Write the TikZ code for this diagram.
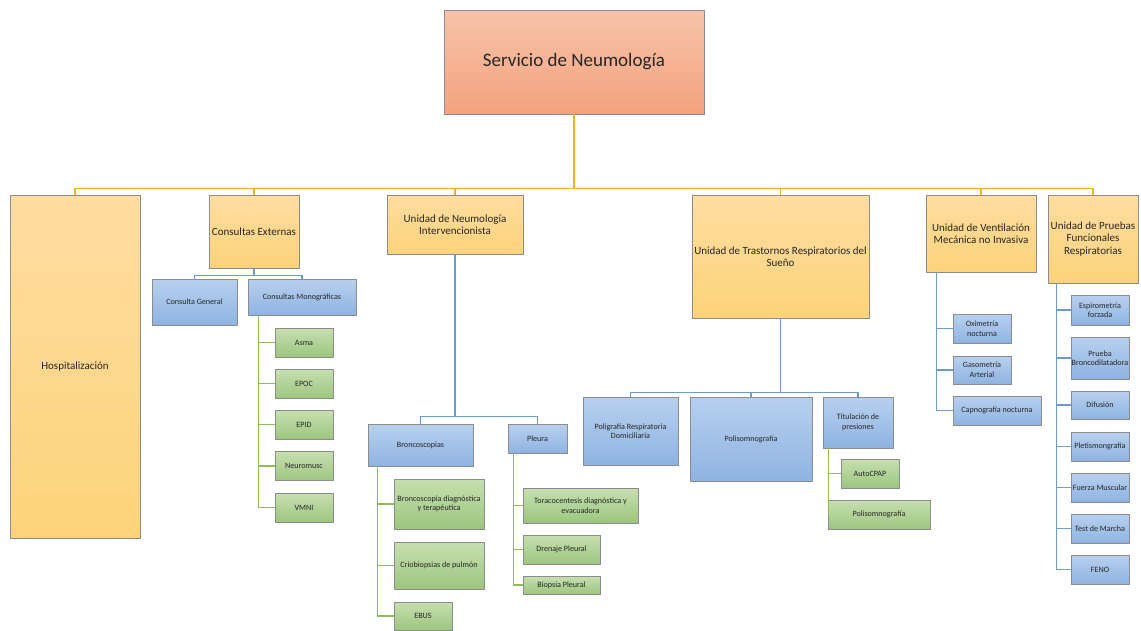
\documentclass[tikz,border=0pt]{standalone}
\usepackage{fontspec}
\setmainfont{Carlito}
\definecolor{rootTop}{HTML}{F7C3A9}
\definecolor{rootBot}{HTML}{F4A27E}
\definecolor{unitTop}{HTML}{FEDDA0}
\definecolor{unitBot}{HTML}{FDD27A}
\definecolor{subTop}{HTML}{B8D0EE}
\definecolor{subBot}{HTML}{8EB3E2}
\definecolor{leafTop}{HTML}{C6DFB0}
\definecolor{leafBot}{HTML}{9CC67F}
\definecolor{lineOrange}{HTML}{F0B323}
\definecolor{lineBlue}{HTML}{6C9BD2}
\definecolor{lineGreen}{HTML}{8CBD5B}
\definecolor{boxGray}{HTML}{8C8C8C}
\definecolor{textGray}{HTML}{262626}
\begin{document}
\begin{tikzpicture}[x=1pt,y=-1pt]
  \tikzstyle{box}=[draw=boxGray, line width=0.8pt, inner sep=0.5pt, align=center, text=textGray]
  \tikzstyle{rootbox}=[box, top color=rootTop, bottom color=rootBot, font=\fontsize{19}{23}\selectfont]
  \tikzstyle{unitbox}=[box, top color=unitTop, bottom color=unitBot, font=\fontsize{11}{12.5}\selectfont]
  \tikzstyle{subbox}=[box, top color=subTop, bottom color=subBot, font=\fontsize{8.1}{9.5}\selectfont]
  \tikzstyle{leafbox}=[box, top color=leafTop, bottom color=leafBot, font=\fontsize{8.1}{9.5}\selectfont]
  \tikzstyle{orangeline}=[draw=lineOrange, line width=1.5pt]
  \tikzstyle{blueline}=[draw=lineBlue, line width=1.5pt]
  \tikzstyle{greenline}=[draw=lineGreen, line width=1.5pt]
  \useasboundingbox (0,0) rectangle (1141,630);

  % top
  \node[rootbox, minimum width=260pt, minimum height=104pt] (root) at (574,62) {Servicio de Neumología};

  % units
  \node[unitbox, minimum width=130pt, minimum height=343pt] (hosp) at (75,366.5) {Hospitalización};
  \node[unitbox, minimum width=90pt, minimum height=73pt] (cext) at (254,231.5) {Consultas Externas};
  \node[unitbox, minimum width=136pt, minimum height=59pt] (interv) at (455,224.5) {Unidad de Neumología\\Intervencionista};
  \node[unitbox, minimum width=177pt, minimum height=123pt] (sueno) at (780.5,256.5) {Unidad de Trastornos Respiratorios del\\Sueño};
  \node[unitbox, minimum width=110pt, minimum height=77pt] (vmni) at (981,233.5) {Unidad de Ventilación\\Mecánica no Invasiva};
  \node[unitbox, minimum width=90pt, minimum height=88pt] (pfr) at (1093,239) {Unidad de Pruebas\\Funcionales\\Respiratorias};

  \draw[orangeline] (root.south) -- ++(0,74) coordinate (bus);
  \draw[orangeline] (hosp.north |- bus) -- (pfr.north |- bus);
  \foreach \u in {hosp,cext,interv,sueno,vmni,pfr}
    \draw[orangeline] (\u.north |- bus) -- (\u.north);

  % consultas externas
  \node[subbox, minimum width=85pt, minimum height=46pt] (cgen) at (194.5,302) {Consulta General};
  \node[subbox, minimum width=108pt, minimum height=36pt] (cmono) at (302,297) {Consultas Monográficas};
  \draw[blueline] (cext.south) -- ++(0,7) -| (cgen.north);
  \draw[blueline] (cext.south) -- ++(0,7) -| (cmono.north);

  \node[leafbox, minimum width=58pt, minimum height=29pt] (asma) at (304,342.5) {Asma};
  \node[leafbox, minimum width=58pt, minimum height=29pt] (epoc) at (304,383.5) {EPOC};
  \node[leafbox, minimum width=58pt, minimum height=29pt] (epid) at (304,424.5) {EPID};
  \node[leafbox, minimum width=58pt, minimum height=29pt] (neuro) at (304,466) {Neuromusc};
  \node[leafbox, minimum width=58pt, minimum height=29pt] (vmnileaf) at (304,507.5) {VMNI};
  \foreach \n in {asma,epoc,epid,neuro,vmnileaf}
    \draw[greenline] ([xshift=11pt]cmono.south west) |- (\n.west);

  % intervencionista
  \node[subbox, minimum width=105pt, minimum height=42pt] (bronco) at (420.5,445) {Broncoscopias};
  \node[subbox, minimum width=59pt, minimum height=29pt] (pleura) at (537.5,438.5) {Pleura};
  \draw[blueline] (interv.south) -- ++(0,162) -| (bronco.north);
  \draw[blueline] (interv.south) -- ++(0,162) -| (pleura.north);

  \node[leafbox, minimum width=90pt, minimum height=50pt] (bdiag) at (439,504) {Broncoscopia diagnóstica\\y terapéutica};
  \node[leafbox, minimum width=90pt, minimum height=47pt] (crio) at (439,565.5) {Criobiopsias de pulmón};
  \node[leafbox, minimum width=58pt, minimum height=28pt] (ebus) at (423,616) {EBUS};
  \foreach \n in {bdiag,crio,ebus}
    \draw[greenline] ([xshift=10pt]bronco.south west) |- (\n.west);

  \node[leafbox, minimum width=115pt, minimum height=35pt] (tora) at (580.5,505.5) {Toracocentesis diagnóstica y\\evacuadora};
  \node[leafbox, minimum width=77pt, minimum height=29pt] (dren) at (561.5,549.5) {Drenaje Pleural};
  \node[leafbox, minimum width=77pt, minimum height=18pt] (biop) at (561.5,585) {Biopsia Pleural};
  \foreach \n in {tora,dren,biop}
    \draw[greenline] ([xshift=6pt]pleura.south west) |- (\n.west);

  % sueño
  \node[subbox, minimum width=95pt, minimum height=68pt] (poli) at (630.5,431) {Poligrafía Respiratoria\\Domiciliaria};
  \node[subbox, minimum width=122pt, minimum height=84pt] (psg) at (751,439) {Polisomnografía};
  \node[subbox, minimum width=70pt, minimum height=51pt] (titu) at (858,422.5) {Titulación de\\presiones};
  \foreach \n in {poli,psg,titu}
    \draw[blueline] (sueno.south) -- ++(0,74) -| (\n.north);

  \node[leafbox, minimum width=58pt, minimum height=29pt] (acpap) at (870,473.5) {AutoCPAP};
  \node[leafbox, minimum width=102pt, minimum height=29pt] (psgleaf) at (879,514.5) {Polisomnografía};
  \foreach \n in {acpap,psgleaf}
    \draw[greenline] ([xshift=6pt]titu.south west) |- (\n.west);

  % ventilación
  \node[subbox, minimum width=58pt, minimum height=29pt] (oxi) at (982,328.5) {Oximetría\\nocturna};
  \node[subbox, minimum width=58pt, minimum height=28pt] (gaso) at (982,370) {Gasometría\\Arterial};
  \node[subbox, minimum width=88pt, minimum height=29pt] (capno) at (997,410.5) {Capnografía nocturna};
  \foreach \n in {oxi,gaso,capno}
    \draw[blueline] ([xshift=11pt]vmni.south west) |- (\n.west);

  % pruebas funcionales
  \node[subbox, minimum width=58pt, minimum height=30pt] (espiro) at (1100,310) {Espirometría\\forzada};
  \node[subbox, minimum width=58pt, minimum height=42pt] (pbd) at (1100,358) {Prueba\\Broncodilatadora};
  \node[subbox, minimum width=58pt, minimum height=28pt] (difu) at (1100,405) {Difusión};
  \node[subbox, minimum width=58pt, minimum height=29pt] (pletis) at (1100,446.5) {Pletismongrafía};
  \node[subbox, minimum width=58pt, minimum height=29pt] (fuerza) at (1100,487.5) {Fuerza Muscular};
  \node[subbox, minimum width=58pt, minimum height=29pt] (marcha) at (1100,528.5) {Test de Marcha};
  \node[subbox, minimum width=58pt, minimum height=29pt] (feno) at (1100,569.5) {FENO};
  \foreach \n in {espiro,pbd,difu,pletis,fuerza,marcha,feno}
    \draw[blueline] ([xshift=9pt]pfr.south west) |- (\n.west);
\end{tikzpicture}
\end{document}
